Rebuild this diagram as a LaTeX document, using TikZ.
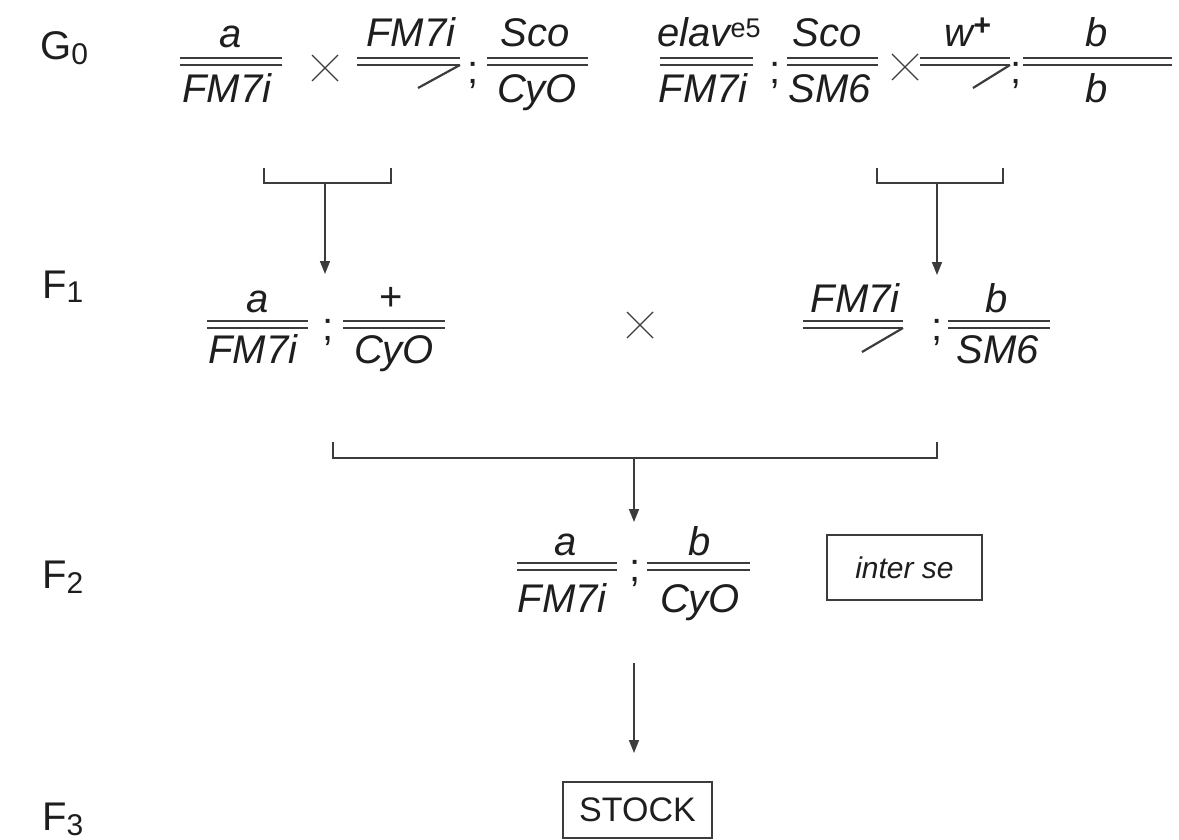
\documentclass[tikz,border=0pt]{standalone}
\usepackage{fontspec}
\setmainfont{Liberation Sans}
\usetikzlibrary{arrows.meta}
\definecolor{ink}{RGB}{30,30,30}
\definecolor{rulecol}{RGB}{60,60,60}
\newcommand\dline[3]{\draw[chrom] (#1,#3) -- (#2,#3) (#1,#3+7) -- (#2,#3+7);}
\newcommand\xcross[2]{\draw[xmark] (#1-13,#2-13) -- (#1+13,#2+13) (#1-13,#2+13) -- (#1+13,#2-13);}
\newcommand\supsm[1]{\raisebox{9pt}{\fontsize{27}{30}\selectfont\upshape #1}}
\newcommand\gsub[1]{\raisebox{-5pt}{\fontsize{30}{34}\selectfont #1}}
\begin{document}
\begin{tikzpicture}[x=1pt,y=-1pt,
  gene/.style={inner sep=0pt, anchor=base, font=\fontsize{40}{48}\selectfont\itshape, text=ink},
  plain/.style={inner sep=0pt, anchor=base, font=\fontsize{40}{48}\selectfont, text=ink},
  gen/.style={inner sep=0pt, anchor=base west, font=\fontsize{40}{46}\selectfont, text=ink},
  chrom/.style={rulecol, line width=2.2pt},
  conn/.style={rulecol, line width=1.6pt},
  arr/.style={conn, -{Triangle[length=13pt,width=10pt]}},
  xmark/.style={rulecol, line width=1.4pt},
  boxed/.style={draw=rulecol, line width=1.6pt, inner sep=0pt, text=ink}
]
\useasboundingbox (0,0) rectangle (1179,840);

% generation labels
\node[gen] (lG0) at (40,60) {G\gsub{0}};
\node[gen] (lF1) at (42,298) {F\gsub{1}};
\node[gen] (lF2) at (42,588) {F\gsub{2}};
\node[gen] (lF3) at (42,830) {F\gsub{3}};

% ---------- G0 ----------
\dline{180}{282}{58}
\node[gene] (g1n) at (231,48) {a};
\node[gene] (g1d) at (227,103) {FM7i};
\xcross{325}{68}
\dline{357}{460}{58}
\node[gene] (g2n) at (411,47) {FM7i};
\draw[chrom] (460,65) -- (418,88);
\node[plain] (g2s) at (473,84) {;};
\dline{487}{588}{58}
\node[gene] (g3n) at (535,47) {Sco};
\node[gene] (g3d) at (537,103) {CyO};

\dline{660}{753}{58}
\node[gene] (g4n) at (709,47) {elav\supsm{e5}};
\node[gene] (g4d) at (703,103) {FM7i};
\node[plain] (g4s) at (775,84) {;};
\dline{787}{878}{58}
\node[gene] (g5n) at (827,47) {Sco};
\node[gene] (g5d) at (830,103) {SM6};
\xcross{905}{67}
\dline{920}{1010}{58}
\node[gene] (g6n) at (968,47) {w\raisebox{11pt}{\fontsize{30}{30}\selectfont\upshape\bfseries +}};
\draw[chrom] (1010,65) -- (973,88);
\node[plain] (g6s) at (1016,84) {;};
\dline{1023}{1172}{58}
\node[gene] (g7n) at (1097,47) {b};
\node[gene] (g7d) at (1097,103) {b};

% brackets G0 -> F1
\coordinate (j1) at (325,183);
\coordinate (t1) at (325,274);
\draw[conn] (264,168) |- (391,183) -- (391,168);
\draw[arr] (j1) -- (t1);
\coordinate (j2) at (937,183);
\coordinate (t2) at (937,275);
\draw[conn] (877,168) |- (1003,183) -- (1003,168);
\draw[arr] (j2) -- (t2);

% ---------- F1 ----------
\dline{207}{308}{321}
\node[gene] (f1n) at (258,312) {a};
\node[gene] (f1d) at (253,363) {FM7i};
\node[plain] (f1s) at (328,340) {;};
\dline{343}{445}{321}
\node[plain] (f2n) at (391,310) {+};
\node[gene] (f2d) at (394,363) {CyO};
\xcross{640}{325}
\dline{803}{903}{321}
\node[gene] (f3n) at (855,312) {FM7i};
\draw[chrom] (903,328) -- (862,352);
\node[plain] (f3s) at (937,340) {;};
\dline{948}{1050}{321}
\node[gene] (f4n) at (997,312) {b};
\node[gene] (f4d) at (998,363) {SM6};

% bracket F1 -> F2
\coordinate (j3) at (634,458);
\coordinate (t3) at (634,522);
\draw[conn] (333,442) |- (937,458) -- (937,442);
\draw[arr] (j3) -- (t3);

% ---------- F2 ----------
\dline{517}{617}{563}
\node[gene] (h1n) at (566,555) {a};
\node[gene] (h1d) at (562,612) {FM7i};
\node[plain] (h1s) at (635,581) {;};
\dline{647}{750}{563}
\node[gene] (h2n) at (700,555) {b};
\node[gene] (h2d) at (700,612) {CyO};
\node[boxed, minimum width=155pt, minimum height=65pt,
      font=\fontsize{30}{36}\selectfont\itshape] (inter) at (904.5,567.5) {inter se};

% F2 -> F3
\coordinate (j4) at (634,663);
\draw[arr] (j4) -- (634,753);
\node[boxed, minimum width=149pt, minimum height=56pt,
      font=\fontsize{34}{40}\selectfont] (stock) at (637.5,810) {STOCK};
\end{tikzpicture}
\end{document}
